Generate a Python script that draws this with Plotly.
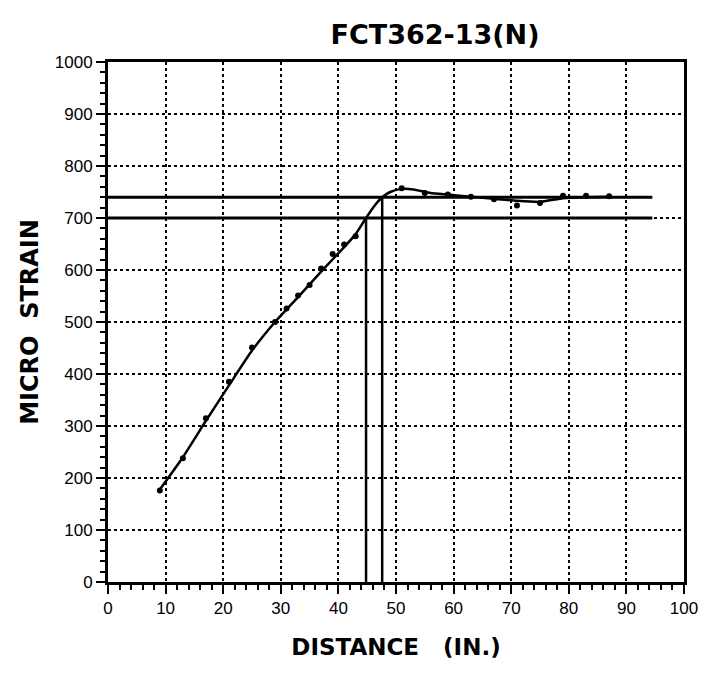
import plotly.graph_objects as go

# measured points (distance in inches, micro strain)
dist_pts = [9, 13, 17, 21, 25, 29, 31, 33, 35, 37, 39, 41, 43,
            51, 55, 59, 63, 67, 71, 75, 79, 83, 87]
strain_pts = [176, 238, 315, 385, 451, 500, 526, 551, 571, 603, 631, 649, 665,
              757, 748, 745, 741, 736, 724, 729, 743, 743, 742]

# hand drawn curve through the points
curve_x = [9, 13, 17, 21, 25, 29, 33, 37, 41, 43, 44.8, 46.3, 47.6, 49, 51,
           53, 56, 59, 63, 67, 71, 75, 79, 83, 87]
curve_y = [178, 240, 310, 378, 445, 500, 548, 597, 644, 669, 700, 724, 740, 750, 756,
           755, 748, 745, 741, 737, 733, 731, 738, 740, 741]

# reference levels and where the curve crosses them
upper_level = [740, 740]
lower_level = [700, 700]
level_x = [0, 94.5]
cross_x1 = [44.8, 44.8]
cross_y1 = [0, 700]
cross_x2 = [47.6, 47.6]
cross_y2 = [0, 740]

x_ticks = [0, 10, 20, 30, 40, 50, 60, 70, 80, 90, 100]
y_ticks = [0, 100, 200, 300, 400, 500, 600, 700, 800, 900, 1000]

fig = go.Figure()

line_style = dict(color="black", width=3)
fig.add_trace(go.Scatter(x=level_x, y=upper_level, mode="lines", line=line_style))
fig.add_trace(go.Scatter(x=level_x, y=lower_level, mode="lines", line=line_style))
fig.add_trace(go.Scatter(x=cross_x1, y=cross_y1, mode="lines", line=dict(color="black", width=2.5)))
fig.add_trace(go.Scatter(x=cross_x2, y=cross_y2, mode="lines", line=dict(color="black", width=2.5)))
fig.add_trace(go.Scatter(x=curve_x, y=curve_y, mode="lines",
                         line=dict(color="black", width=2.5, shape="spline", smoothing=0.5)))
fig.add_trace(go.Scatter(x=dist_pts, y=strain_pts, mode="markers",
                         marker=dict(color="black", size=6)))

tick_font = dict(family="Liberation Sans, Arial", size=17, color="black")

# the page adds an 8px body margin, so margins are shifted to compensate
fig.update_layout(
    width=710, height=678,
    paper_bgcolor="white", plot_bgcolor="white",
    showlegend=False,
    margin=dict(l=100, r=34, t=54, b=104),
    title=dict(text="<b>FCT362-13(N)</b>", x=(435 - 8) / 710, xanchor="center",
               y=1 - (35 - 8) / 678, yanchor="middle",
               font=dict(family="DejaVu Sans", size=27, color="black")),
    xaxis=dict(range=[0, 100], tickvals=x_ticks, ticks="outside", ticklen=9, tickwidth=2,
               tickcolor="black", showline=True, linecolor="black", linewidth=3, mirror=True,
               showgrid=True, gridcolor="black", gridwidth=2, griddash="dot", zeroline=False,
               minor=dict(dtick=2, ticks="outside", ticklen=5, tickwidth=2, tickcolor="black",
                          showgrid=False),
               tickfont=tick_font,
               title=dict(text="<b>DISTANCE\u00a0\u00a0\u00a0(IN.)</b>",
                          font=dict(family="DejaVu Sans", size=23, color="black"), standoff=22)),
    yaxis=dict(range=[0, 1000], tickvals=y_ticks, ticks="outside", ticklen=9, tickwidth=2,
               tickcolor="black", showline=True, linecolor="black", linewidth=3, mirror=True,
               showgrid=True, gridcolor="black", gridwidth=2, griddash="dot", zeroline=False,
               minor=dict(dtick=20, ticks="outside", ticklen=5, tickwidth=2, tickcolor="black",
                          showgrid=False),
               tickfont=tick_font,
               title=dict(text="<b>MICRO\u00a0\u00a0STRAIN</b>",
                          font=dict(family="DejaVu Sans", size=24, color="black"), standoff=10)),
)

fig.write_html("out.html")
